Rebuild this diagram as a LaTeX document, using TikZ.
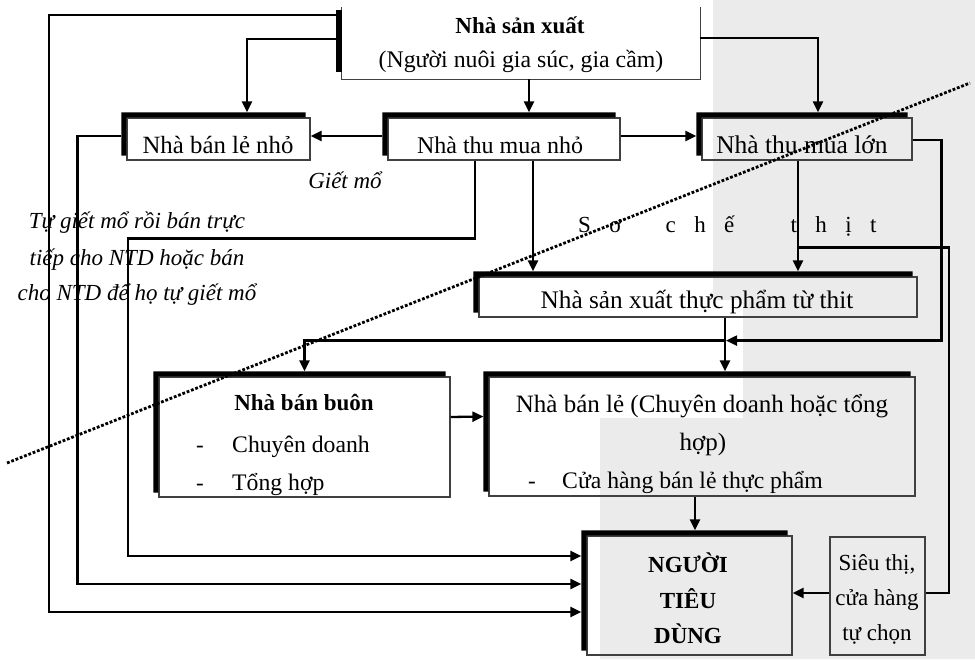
\documentclass[tikz,border=0pt]{standalone}
\usepackage{fontspec}
\setmainfont{Liberation Serif}
\usetikzlibrary{arrows.meta}
\newcommand\fs{\fontsize{23}{27}\selectfont}
\newcommand\fsz[1]{\fontsize{#1}{#1}\selectfont}
\newcommand\mkshadow[1]{\fill[black] ([shift={(-5,-5)}]#1.south west) -- ([shift={(-5,-5)}]#1.north west) -- ([shift={(-5,-5)}]#1.north east) -- ([shift={(-5,0)}]#1.north east) -- (#1.north west) -- ([shift={(0,-5)}]#1.south west) -- cycle;}
\tikzset{
  box/.style={draw=black!75, line width=1.2pt, inner sep=0pt, rectangle},
  conn/.style={line width=2.3pt, black},
  arr/.style={conn, -{Triangle[length=11pt,width=10pt]}},
  lbl/.style={anchor=base, inner sep=0pt, font=\fs},
  lblw/.style={anchor=base west, inner sep=0pt, font=\fs},
  dotline/.style={line width=2.8pt, dash pattern=on 2.8pt off 1.8pt},
}
\begin{document}
\begin{tikzpicture}[x=1pt,y=-1pt]
\useasboundingbox (0,0) rectangle (975,659);
\fill[white] (0,0) rectangle (975,659);
\fill[black!8] (713,0) -- (975,0) -- (975,659) -- (600,659) -- (600,418) -- (743,418) -- (743,300) -- (713,300) -- cycle;

% boxes
\node[inner sep=0pt, minimum width=358pt, minimum height=72pt] (prod) at (521,43) {};
\node[box, minimum width=183pt, minimum height=42pt] (blnho) at (218.5,139) {};
\node[box, minimum width=232pt, minimum height=42pt] (tmnho) at (504,139) {};
\node[box, minimum width=210pt, minimum height=42pt] (tmlon) at (807,139) {};
\node[box, minimum width=438pt, minimum height=40pt] (nsxtp) at (698,297) {};
\node[box, minimum width=291pt, minimum height=120pt] (blbuon) at (304.5,437) {};
\node[box, minimum width=426pt, minimum height=119pt] (blle) at (702,436.5) {};
\node[box, minimum width=205pt, minimum height=119pt] (ntd) at (689.5,595.5) {};
\node[box, minimum width=95pt, minimum height=118pt] (st) at (877.5,596) {};

\draw[black!75, line width=1.2pt] (prod.north west) -- (prod.south west) -- (prod.south east) -- (prod.north east);

% connectors
\draw[arr] ([yshift=28pt]prod.west) -- ++(-293,0) |- ([xshift=-5pt,yshift=-16.5pt]ntd.west);
\draw[arr] ([yshift=4pt]prod.west) -| ([xshift=28.5pt,yshift=5pt]blnho.north);
\draw[arr] ([xshift=8pt]prod.south) -- ([xshift=25pt,yshift=5pt]tmnho.north);
\draw[arr] ([yshift=5pt]prod.east) -| ([xshift=11pt,yshift=5pt]tmlon.north);
\draw[arr] ([xshift=-5pt,yshift=3pt]blnho.west) -- ++(-44,0) |- ([xshift=-5pt,yshift=11.5pt]ntd.west);
\draw[arr] ([xshift=-5pt,yshift=3pt]tmnho.west) -- ([yshift=3pt]blnho.east);
\draw[arr] ([yshift=3pt]tmnho.east) -- ([xshift=-5pt,yshift=3pt]tmlon.west);
\draw[arr] ([xshift=-29pt]tmnho.south) |- ++(-347,78) |- ([xshift=-5pt,yshift=39.5pt]ntd.west);
\draw[arr] ([xshift=29pt]tmnho.south) -- ([xshift=-165pt,yshift=5pt]nsxtp.north);
\draw[arr] ([xshift=-9pt]tmlon.south) -- ([xshift=100pt,yshift=5pt]nsxtp.north);
\draw[conn] ([xshift=-9pt,yshift=-87pt]tmlon.south) -- ++(151,0) |- ([yshift=3pt]st.east);
\draw[arr] ([xshift=27pt]nsxtp.south) -- ([xshift=23pt,yshift=5pt]blle.north);
\draw[arr] ([xshift=27pt]nsxtp.south) -- ++(0,23) coordinate (j) -| ([yshift=5pt]blbuon.north);
\draw[arr] ([yshift=-1pt]tmlon.east) -- ++(29,0) |- ([xshift=1pt]j);
\draw[arr] ([yshift=20pt]blbuon.east) -- ([xshift=-5pt,yshift=20pt]blle.west);
\draw[arr] ([xshift=-7pt]blle.south) -- ([xshift=5.5pt,yshift=5pt]ntd.north);
\draw[arr] ([yshift=3pt]st.west) -- ([yshift=2.5pt]ntd.east);

% shadows
\fill[black] ([shift={(-6,-33)}]prod.west) rectangle ([shift={(0,29)}]prod.west);
\mkshadow{blnho}
\mkshadow{tmnho}
\mkshadow{tmlon}
\mkshadow{nsxtp}
\mkshadow{blbuon}
\mkshadow{blle}
\mkshadow{ntd}

% texts
\node[lbl, font=\fs\bfseries] (tp1) at (520,33) {Nhà sản xuất};
\node[lbl, font=\fsz{23.8}] (tp2) at (521,67) {(Người nuôi gia súc, gia cầm)};
\node[lbl, font=\fsz{24.8}] (tbl) at (218,153) {Nhà bán lẻ nhỏ};
\node[lbl, font=\fsz{24}] (ttn) at (500,153) {Nhà thu mua nhỏ};
\node[lbl, font=\fsz{25.5}] (ttl) at (802,153) {Nhà thu mua lớn};
\node[lbl, font=\fs\itshape] (tgm) at (345,188) {Giết mổ};
\node[lbl, font=\fs\itshape] (tg1) at (137,228) {Tự giết mổ rồi bán trực};
\node[lbl, font=\fs\itshape] (tg2) at (137,265) {tiếp cho NTD hoặc bán};
\node[lbl, font=\fs\itshape] (tg3) at (137,300) {cho NTD để họ tự giết mổ};
\node[lblw] (tsc) at (578,232) {\addfontfeature{LetterSpace=80}Sơ\hspace{20pt} chế\hspace{32pt} thịt};
\node[lbl, font=\fsz{25.3}] (tns) at (697,308) {Nhà sản xuất thực phẩm từ thit};
\node[lbl, font=\fs\bfseries] (tbb) at (304,410) {Nhà bán buôn};
\node[lbl] (tbd1) at (200,452) {-};
\node[lblw, font=\fsz{23.7}] (tbb1) at (232,452) {Chuyên doanh};
\node[lbl] (tbd2) at (200,490) {-};
\node[lblw, font=\fsz{23.7}] (tbb2) at (232,490) {Tổng hợp};
\node[lbl, font=\fsz{25}] (tle1) at (702,412) {Nhà bán lẻ (Chuyên doanh hoặc tổng};
\node[lbl, font=\fsz{25}] (tle2) at (703,450) {hợp)};
\node[lbl] (tled) at (532,488) {-};
\node[lblw, font=\fsz{23.7}] (tle3) at (562,488) {Cửa hàng bán lẻ thực phẩm};
\node[lbl, font=\fs\bfseries] (tn1) at (688,572) {NGƯỜI};
\node[lbl, font=\fs\bfseries] (tn2) at (688,608) {TIÊU};
\node[lbl, font=\fs\bfseries] (tn3) at (688,643) {DÙNG};
\node[lbl] (ts1) at (877,570) {Siêu thị,};
\node[lbl] (ts2) at (877,605) {cửa hàng};
\node[lbl] (ts3) at (877,640) {tự chọn};

% dotted boundary
\draw[dotline] (7,463) -- (970,83);
\end{tikzpicture}
\end{document}
